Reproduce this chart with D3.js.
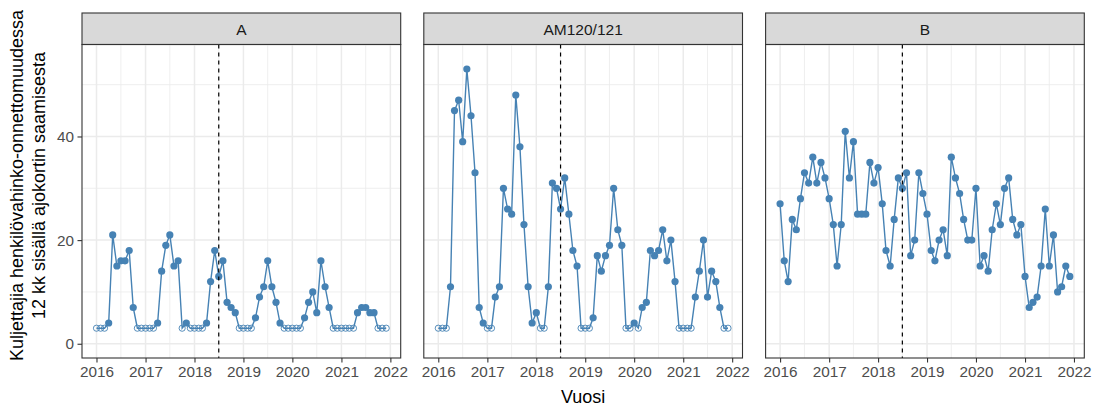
<!DOCTYPE html>
<html>
<head>
<meta charset="utf-8">
<script src="https://cdn.jsdelivr.net/npm/d3@7"></script>
<style>
  body { margin: 0; background: #fff; }
  text { font-family: "Liberation Sans", Arial, sans-serif; }
</style>
</head>
<body>
<div id="chart"></div>
<script>
// panels (facets)
var panelNames = ["A", "AM120/121", "B"];

// monthly series, Jan 2016 .. Dec 2021. null = fewer than 3 (shown as open circle at 3)
var seriesA = [null, null, null, 4, 21, 15, 16, 16, 18, 7, null, null,
               null, null, null, 4, 14, 19, 21, 15, 16, null, 4, null,
               null, null, null, 4, 12, 18, 13, 16, 8, 7, 6, null,
               null, null, null, 5, 9, 11, 16, 11, 8, 4, null, null,
               null, null, null, 5, 8, 10, 6, 16, 11, 7, null, null,
               null, null, null, null, 6, 7, 7, 6, 6, null, null, null];
var seriesAM = [null, null, null, 11, 45, 47, 39, 53, 44, 33, 7, 4,
                null, null, 9, 11, 30, 26, 25, 48, 38, 23, 11, 4,
                6, null, null, 11, 31, 30, 26, 32, 25, 18, 15, null,
                null, null, 5, 17, 14, 17, 19, 30, 22, 19, null, null,
                4, null, 7, 8, 18, 17, 18, 22, 16, 20, 12, null,
                null, null, null, 9, 14, 20, 9, 14, 12, 7, null, null];
var seriesB = [27, 16, 12, 24, 22, 28, 33, 31, 36, 31, 35, 32,
               28, 23, 15, 23, 41, 32, 39, 25, 25, 25, 35, 31,
               34, 27, 18, 15, 24, 32, 30, 33, 17, 20, 33, 29,
               25, 18, 16, 20, 22, 17, 36, 32, 29, 24, 20, 20,
               30, 15, 17, 14, 22, 27, 23, 30, 32, 24, 21, 23,
               13, 7, 8, 9, 15, 26, 15, 21, 10, 11, 15, 13];
var allSeries = [seriesA, seriesAM, seriesB];

var suppressedLevel = 3;
var xTickYears = [2016, 2017, 2018, 2019, 2020, 2021, 2022];
var yTicks = [0, 20, 40];
var yMinor = [10, 30, 50];
var yLimits = [0, 55];
var cutoff = new Date(2018, 6, 1);   // dashed line

var yTitleLines = ["Kuljettajia henkilövahinko-onnettomuudessa", "12 kk sisällä ajokortin saamisesta"];
var xTitle = "Vuosi";

// layout
var W = 1098, H = 408;
var panelLeft0 = 82, panelW = 318.7, panelGap = 23.1;
var stripTop = 13, panelTop = 44.5, panelBottom = 358;
var colLine = "steelblue";

var svg = d3.select("#chart").append("svg")
  .attr("width", W)
  .attr("height", H);

// months as dates
var dates = seriesA.map(function(d, i) { return new Date(2016, i, 1); });
var first = dates[0], last = dates[dates.length - 1];
var span = last - first;

var x = d3.scaleTime()
  .domain([new Date(+first - 0.05 * span), new Date(+last + 0.05 * span)])
  .range([0, panelW]);

var yPad = 0.05 * (yLimits[1] - yLimits[0]);
var y = d3.scaleLinear()
  .domain([yLimits[0] - yPad, yLimits[1] + yPad])
  .range([panelBottom, panelTop]);

var xMinor = xTickYears.slice(0, -1).map(function(yr) { return new Date(yr, 6, 1); });

panelNames.forEach(function(name, p) {
  var left = panelLeft0 + p * (panelW + panelGap);
  var g = svg.append("g").attr("transform", "translate(" + left + ",0)");
  var values = allSeries[p];
  var pts = values.map(function(v, i) {
    return {date: dates[i], value: v === null ? suppressedLevel : v, hidden: v === null};
  });

  // strip
  g.append("rect")
    .attr("x", 0).attr("y", stripTop)
    .attr("width", panelW).attr("height", panelTop - stripTop)
    .attr("fill", "#d9d9d9")
    .attr("stroke", "#333333").attr("stroke-width", 1.1);
  g.append("text")
    .attr("x", panelW / 2).attr("y", 35)
    .attr("text-anchor", "middle")
    .attr("font-size", "15.5px")
    .attr("fill", "#1a1a1a")
    .text(name);

  // grid
  g.selectAll(".xminor").data(xMinor).enter().append("line")
    .attr("x1", function(d) { return x(d); }).attr("x2", function(d) { return x(d); })
    .attr("y1", panelTop).attr("y2", panelBottom)
    .attr("stroke", "#ebebeb").attr("stroke-width", 0.8);
  g.selectAll(".yminor").data(yMinor).enter().append("line")
    .attr("x1", 0).attr("x2", panelW)
    .attr("y1", function(d) { return y(d); }).attr("y2", function(d) { return y(d); })
    .attr("stroke", "#ebebeb").attr("stroke-width", 0.8);
  g.selectAll(".xmajor").data(xTickYears).enter().append("line")
    .attr("x1", function(d) { return x(new Date(d, 0, 1)); })
    .attr("x2", function(d) { return x(new Date(d, 0, 1)); })
    .attr("y1", panelTop).attr("y2", panelBottom)
    .attr("stroke", "#ebebeb").attr("stroke-width", 1.5);
  g.selectAll(".ymajor").data(yTicks).enter().append("line")
    .attr("x1", 0).attr("x2", panelW)
    .attr("y1", function(d) { return y(d); }).attr("y2", function(d) { return y(d); })
    .attr("stroke", "#ebebeb").attr("stroke-width", 1.5);

  // series
  var line = d3.line()
    .x(function(d) { return x(d.date); })
    .y(function(d) { return y(d.value); });
  g.append("path")
    .datum(pts)
    .attr("d", line)
    .attr("fill", "none")
    .attr("stroke", colLine)
    .attr("stroke-width", 1.4);

  g.selectAll(".pt").data(pts).enter().append("circle")
    .attr("cx", function(d) { return x(d.date); })
    .attr("cy", function(d) { return y(d.value); })
    .attr("r", function(d) { return d.hidden ? 3.1 : 3.6; })
    .attr("fill", function(d) { return d.hidden ? "none" : colLine; })
    .attr("stroke", colLine)
    .attr("stroke-width", function(d) { return d.hidden ? 0.9 : 0; });

  // cutoff
  g.append("line")
    .attr("x1", x(cutoff)).attr("x2", x(cutoff))
    .attr("y1", panelTop).attr("y2", panelBottom)
    .attr("stroke", "#000").attr("stroke-width", 1.2)
    .attr("stroke-dasharray", "4,4");

  // border
  g.append("rect")
    .attr("x", 0).attr("y", panelTop)
    .attr("width", panelW).attr("height", panelBottom - panelTop)
    .attr("fill", "none")
    .attr("stroke", "#333333").attr("stroke-width", 1.1);

  // x axis
  var xAxis = d3.axisBottom(x)
    .tickValues(xTickYears.map(function(yr) { return new Date(yr, 0, 1); }))
    .tickFormat(d3.timeFormat("%Y"))
    .tickSize(4.5)
    .tickPadding(3.5);
  var xa = g.append("g")
    .attr("transform", "translate(0," + panelBottom + ")")
    .call(xAxis);
  xa.select(".domain").remove();
  xa.selectAll("line").attr("stroke", "#333333").attr("stroke-width", 1.1);
  xa.selectAll("text")
    .attr("fill", "#4d4d4d")
    .style("font-size", "15.3px")
    .style("font-family", "Liberation Sans, Arial, sans-serif");

  if (p === 0) {
    var yAxis = d3.axisLeft(y)
      .tickValues(yTicks)
      .tickSize(4.5)
      .tickPadding(3.5);
    var ya = g.append("g").call(yAxis);
    ya.select(".domain").remove();
    ya.selectAll("line").attr("stroke", "#333333").attr("stroke-width", 1.1);
    ya.selectAll("text")
      .attr("fill", "#4d4d4d")
      .style("font-size", "15.3px")
      .style("font-family", "Liberation Sans, Arial, sans-serif");
  }
});

// axis titles
var panelRight = panelLeft0 + 3 * panelW + 2 * panelGap;
svg.append("text")
  .attr("x", (panelLeft0 + panelRight) / 2)
  .attr("y", 403)
  .attr("text-anchor", "middle")
  .attr("font-size", "18px")
  .attr("fill", "#000")
  .text(xTitle);

var yMid = (stripTop + panelBottom) / 2;
yTitleLines.forEach(function(t, i) {
  var bx = 22.5 + i * 22.5;
  svg.append("text")
    .attr("transform", "translate(" + bx + "," + yMid + ") rotate(-90)")
    .attr("text-anchor", "middle")
    .attr("font-size", "18px")
    .attr("fill", "#000")
    .text(t);
});
</script>
</body>
</html>
